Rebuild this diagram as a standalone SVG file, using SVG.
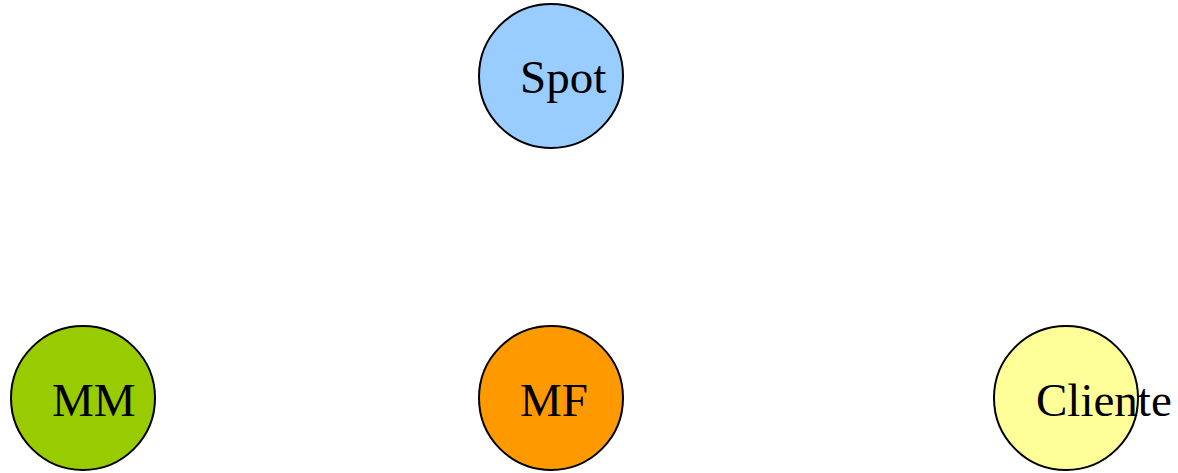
<svg xmlns="http://www.w3.org/2000/svg" width="1178" height="473" viewBox="0 0 1178 473">
  <style>
    .node circle { stroke: #000; stroke-width: 2; }
    .node text { font-family: "Liberation Serif", "Times New Roman", serif; font-size: 47px; fill: #000; }
  </style>
  <rect width="1178" height="473" fill="#fff"/>
  <g id="connectors"></g>
  <g id="spot" class="node">
    <circle cx="551" cy="76" r="72" fill="#99ccff"/>
    <text x="520" y="93">Spot</text>
  </g>
  <g id="mm" class="node">
    <circle cx="83" cy="398" r="72" fill="#99cc00"/>
    <text x="52" y="416">MM</text>
  </g>
  <g id="mf" class="node">
    <circle cx="551" cy="398" r="72" fill="#ff9900"/>
    <text x="520" y="416">MF</text>
  </g>
  <g id="cliente" class="node">
    <circle cx="1066" cy="398" r="72" fill="#ffff99"/>
    <text x="1036" y="416">Cliente</text>
  </g>
</svg>
